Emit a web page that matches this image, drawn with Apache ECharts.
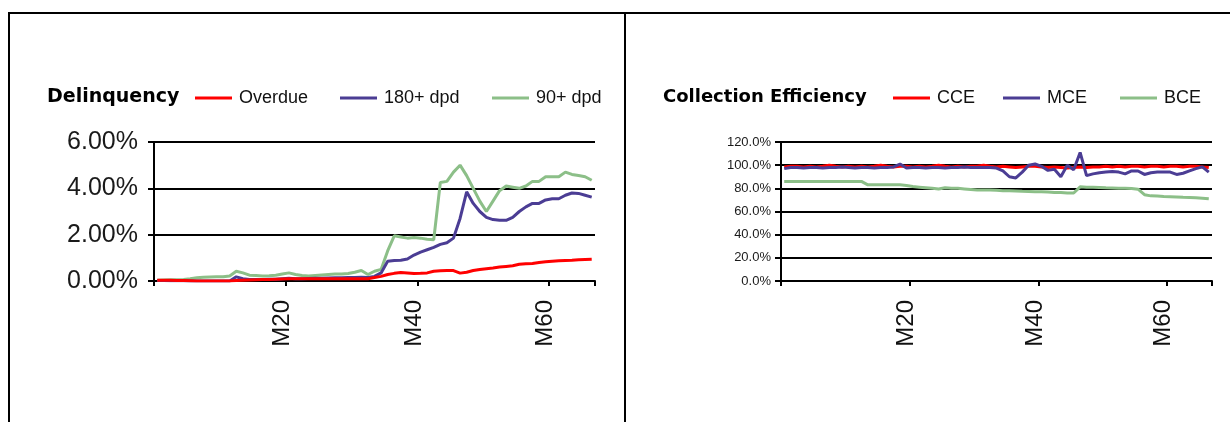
<!DOCTYPE html>
<html>
<head>
<meta charset="utf-8">
<script src="https://cdn.jsdelivr.net/npm/echarts@6/dist/echarts.min.js"></script>
<style>
html, body { margin: 0; padding: 0; background: #fff; }
#main { width: 1230px; height: 422px; }
</style>
</head>
<body>
<div id="main"></div>
<script>
var months = ['M1','M2','M3','M4','M5','M6','M7','M8','M9','M10',
    'M11','M12','M13','M14','M15','M16','M17','M18','M19','M20',
    'M21','M22','M23','M24','M25','M26','M27','M28','M29','M30',
    'M31','M32','M33','M34','M35','M36','M37','M38','M39','M40',
    'M41','M42','M43','M44','M45','M46','M47','M48','M49','M50',
    'M51','M52','M53','M54','M55','M56','M57','M58','M59','M60',
    'M61','M62','M63','M64','M65','M66','M67'];
var tickLabels = ['M20', 'M40', 'M60'];

// Delinquency, in %
var overdue = [0.03,0.03,0.03,0.02,0.02,0.01,0,0,0,0,
    0,0,0.02,0.03,0.04,0.05,0.06,0.07,0.08,0.09,
    0.1,0.1,0.1,0.1,0.1,0.1,0.1,0.1,0.1,0.1,
    0.1,0.1,0.1,0.15,0.2,0.28,0.33,0.37,0.35,0.32,
    0.33,0.35,0.42,0.44,0.45,0.45,0.34,0.38,0.45,0.5,
    0.53,0.56,0.6,0.63,0.66,0.72,0.74,0.76,0.8,0.83,
    0.85,0.87,0.89,0.9,0.92,0.93,0.94];
var dpd180 = [0.02,0.02,0.01,0.01,0.01,0,0,0,0,0,
    0,0,0.18,0.1,0.07,0.06,0.07,0.08,0.08,0.1,
    0.12,0.1,0.1,0.11,0.12,0.12,0.13,0.14,0.14,0.15,
    0.15,0.16,0.15,0.2,0.35,0.85,0.88,0.9,0.95,1.12,
    1.25,1.35,1.45,1.58,1.65,1.85,2.7,3.85,3.35,3.0,
    2.75,2.65,2.62,2.62,2.75,3.0,3.2,3.35,3.35,3.5,
    3.55,3.55,3.7,3.8,3.78,3.7,3.62];
var dpd90 = [0.03,0.04,0.05,0.05,0.07,0.1,0.14,0.16,0.17,0.18,
    0.18,0.22,0.42,0.35,0.25,0.24,0.22,0.23,0.25,0.3,
    0.35,0.28,0.24,0.22,0.24,0.26,0.28,0.3,0.3,0.32,
    0.38,0.45,0.28,0.42,0.5,1.3,1.95,1.9,1.85,1.88,
    1.85,1.8,1.78,4.25,4.3,4.7,5.0,4.55,4.0,3.45,
    3.0,3.45,3.9,4.1,4.05,4.0,4.1,4.3,4.3,4.5,
    4.5,4.5,4.7,4.6,4.55,4.5,4.35];

// Collection efficiency, in %
var cce = [98.5,99,99,98.5,99,98.5,99,100,99,98.5,
    99,98.5,99,98.5,99,100,99,98.5,99,99,
    98.5,99,98.5,99,100,99,98.5,99,98.5,99,
    99,100,99,98.5,99,98.5,98,98.5,99,99,
    98.5,98,98.5,98,97.5,98,98.5,98,98.5,98.5,
    99,98.5,99,98.5,99,99,98.5,99,99,98.5,
    99,99,98.5,99,99,98.5,98];
var mce = [97,98,98,97.5,98,98,97.5,98,98,98.5,
    98,97.5,98,98,97.5,98,98,98.5,101,97.5,
    98,98,97.5,98,98,97.5,98,98,98.5,98,
    98,98,98,97.5,95,90,89,94,100,101,
    99,95.5,96.5,90,100,96,111,91,92.5,93.5,
    94,94.5,94,92.5,95,95,92,93.5,94,94,
    94,92,93,95,97,98.5,94];
var bce = [86,86,86,86,86,86,86,86,86,86,
    86,86,86,83,83,83,83,83,83,82.5,
    81.5,81,80.5,80,79.5,80.5,80,80,79.5,79,
    78.5,78.5,78.5,78.3,78,78,77.8,77.5,77.3,77,
    77,76.8,76.5,76.3,76,76,81.3,81,81,80.8,
    80.5,80.3,80,80,79.8,79.3,74.5,73.5,73.3,73,
    72.8,72.5,72.2,72,71.8,71.5,71];

var RED = '#ff0000', BLUE = '#4b3d94', GREEN = '#8cbf88';

var myChart = echarts.init(document.getElementById('main'));

function xAxisFor(grid) {
    return {
        gridIndex: grid,
        type: 'category',
        data: months,
        boundaryGap: true,
        axisLine: { show: true, onZero: false, lineStyle: { color: '#000', width: 2 } },
        axisTick: {
            show: true, length: 5,
            interval: function (i) { return i % 20 === 0; },
            lineStyle: { color: '#000', width: 2 }
        },
        axisLabel: {
            interval: function (i, v) { return tickLabels.indexOf(v) >= 0; },
            rotate: 90,
            margin: 19,
            fontSize: 24,
            fontFamily: 'Liberation Sans',
            color: '#111',
            padding: [0, 0, 7, 0]
        },
        splitLine: { show: false }
    };
}

function legendFor(name, x) {
    return {
        data: [name],
        left: x,
        top: 88,
        padding: 0,
        icon: 'rect',
        itemWidth: 37,
        itemHeight: 3,
        selectedMode: false,
        textStyle: { fontSize: 18, fontFamily: 'Liberation Sans', color: '#111', lineHeight: 20, padding: [0, 0, 0, 2] }
    };
}

function lineSeries(name, data, color, xi, width) {
    return {
        name: name,
        type: 'line',
        xAxisIndex: xi,
        yAxisIndex: xi,
        data: data,
        symbol: 'none',
        smooth: false,
        itemStyle: { color: color },
        lineStyle: { color: color, width: width },
        emphasis: { disabled: true }
    };
}

var option = {
    animation: false,
    backgroundColor: '#fff',
    title: [
        { text: 'Delinquency', left: 47, top: 86, padding: 0,
          textStyle: { fontFamily: 'DejaVu Sans', fontWeight: 'bold', fontSize: 19, color: '#000', lineHeight: 22 } },
        { text: 'Collection Efficiency', left: 663, top: 86, padding: 0,
          textStyle: { fontFamily: 'DejaVu Sans', fontWeight: 'bold', fontSize: 18, color: '#000', lineHeight: 22 } }
    ],
    legend: [
        legendFor('Overdue', 195),
        legendFor('180+ dpd', 340),
        legendFor('90+ dpd', 492),
        legendFor('CCE', 893),
        legendFor('MCE', 1003),
        legendFor('BCE', 1120)
    ],
    grid: [
        { left: 154, right: 635, top: 142, bottom: 141, outerBoundsMode: 'none' },
        { left: 781, right: 18, top: 142, bottom: 141, outerBoundsMode: 'none' }
    ],
    xAxis: [xAxisFor(0), xAxisFor(1)],
    yAxis: [
        {
            gridIndex: 0, type: 'value', min: 0, max: 6, interval: 2,
            axisLine: { show: true, lineStyle: { color: '#000', width: 2 } },
            axisTick: { show: true, length: 6, lineStyle: { color: '#000', width: 2 } },
            axisLabel: { margin: 16, fontSize: 25, fontFamily: 'Liberation Sans', color: '#1a1a1a',
                formatter: function (v) { return v.toFixed(2) + '%'; } },
            splitLine: { show: true, lineStyle: { color: '#000', width: 2 } }
        },
        {
            gridIndex: 1, type: 'value', min: 0, max: 120, interval: 20,
            axisLine: { show: true, lineStyle: { color: '#000', width: 2 } },
            axisTick: { show: true, length: 6, lineStyle: { color: '#000', width: 2 } },
            axisLabel: { margin: 10, fontSize: 13, fontFamily: 'Liberation Sans', color: '#1a1a1a',
                formatter: function (v) { return v.toFixed(1) + '%'; } },
            splitLine: { show: true, lineStyle: { color: '#000', width: 2 } }
        }
    ],
    series: [
        lineSeries('90+ dpd', dpd90, GREEN, 0, 3),
        lineSeries('180+ dpd', dpd180, BLUE, 0, 3),
        lineSeries('Overdue', overdue, RED, 0, 3),
        lineSeries('CCE', cce, RED, 1, 3),
        lineSeries('MCE', mce, BLUE, 1, 3),
        lineSeries('BCE', bce, GREEN, 1, 3)
    ],
    graphic: [
        { type: 'line', shape: { x1: 8, y1: 13, x2: 1230, y2: 13 }, style: { stroke: '#000', lineWidth: 2 } },
        { type: 'line', shape: { x1: 9, y1: 12, x2: 9, y2: 422 }, style: { stroke: '#000', lineWidth: 2 } },
        { type: 'line', shape: { x1: 625, y1: 12, x2: 625, y2: 422 }, style: { stroke: '#000', lineWidth: 2 } }
    ]
};

myChart.setOption(option);

window.onresize = function () {
    myChart.resize();
};
</script>
</body>
</html>
